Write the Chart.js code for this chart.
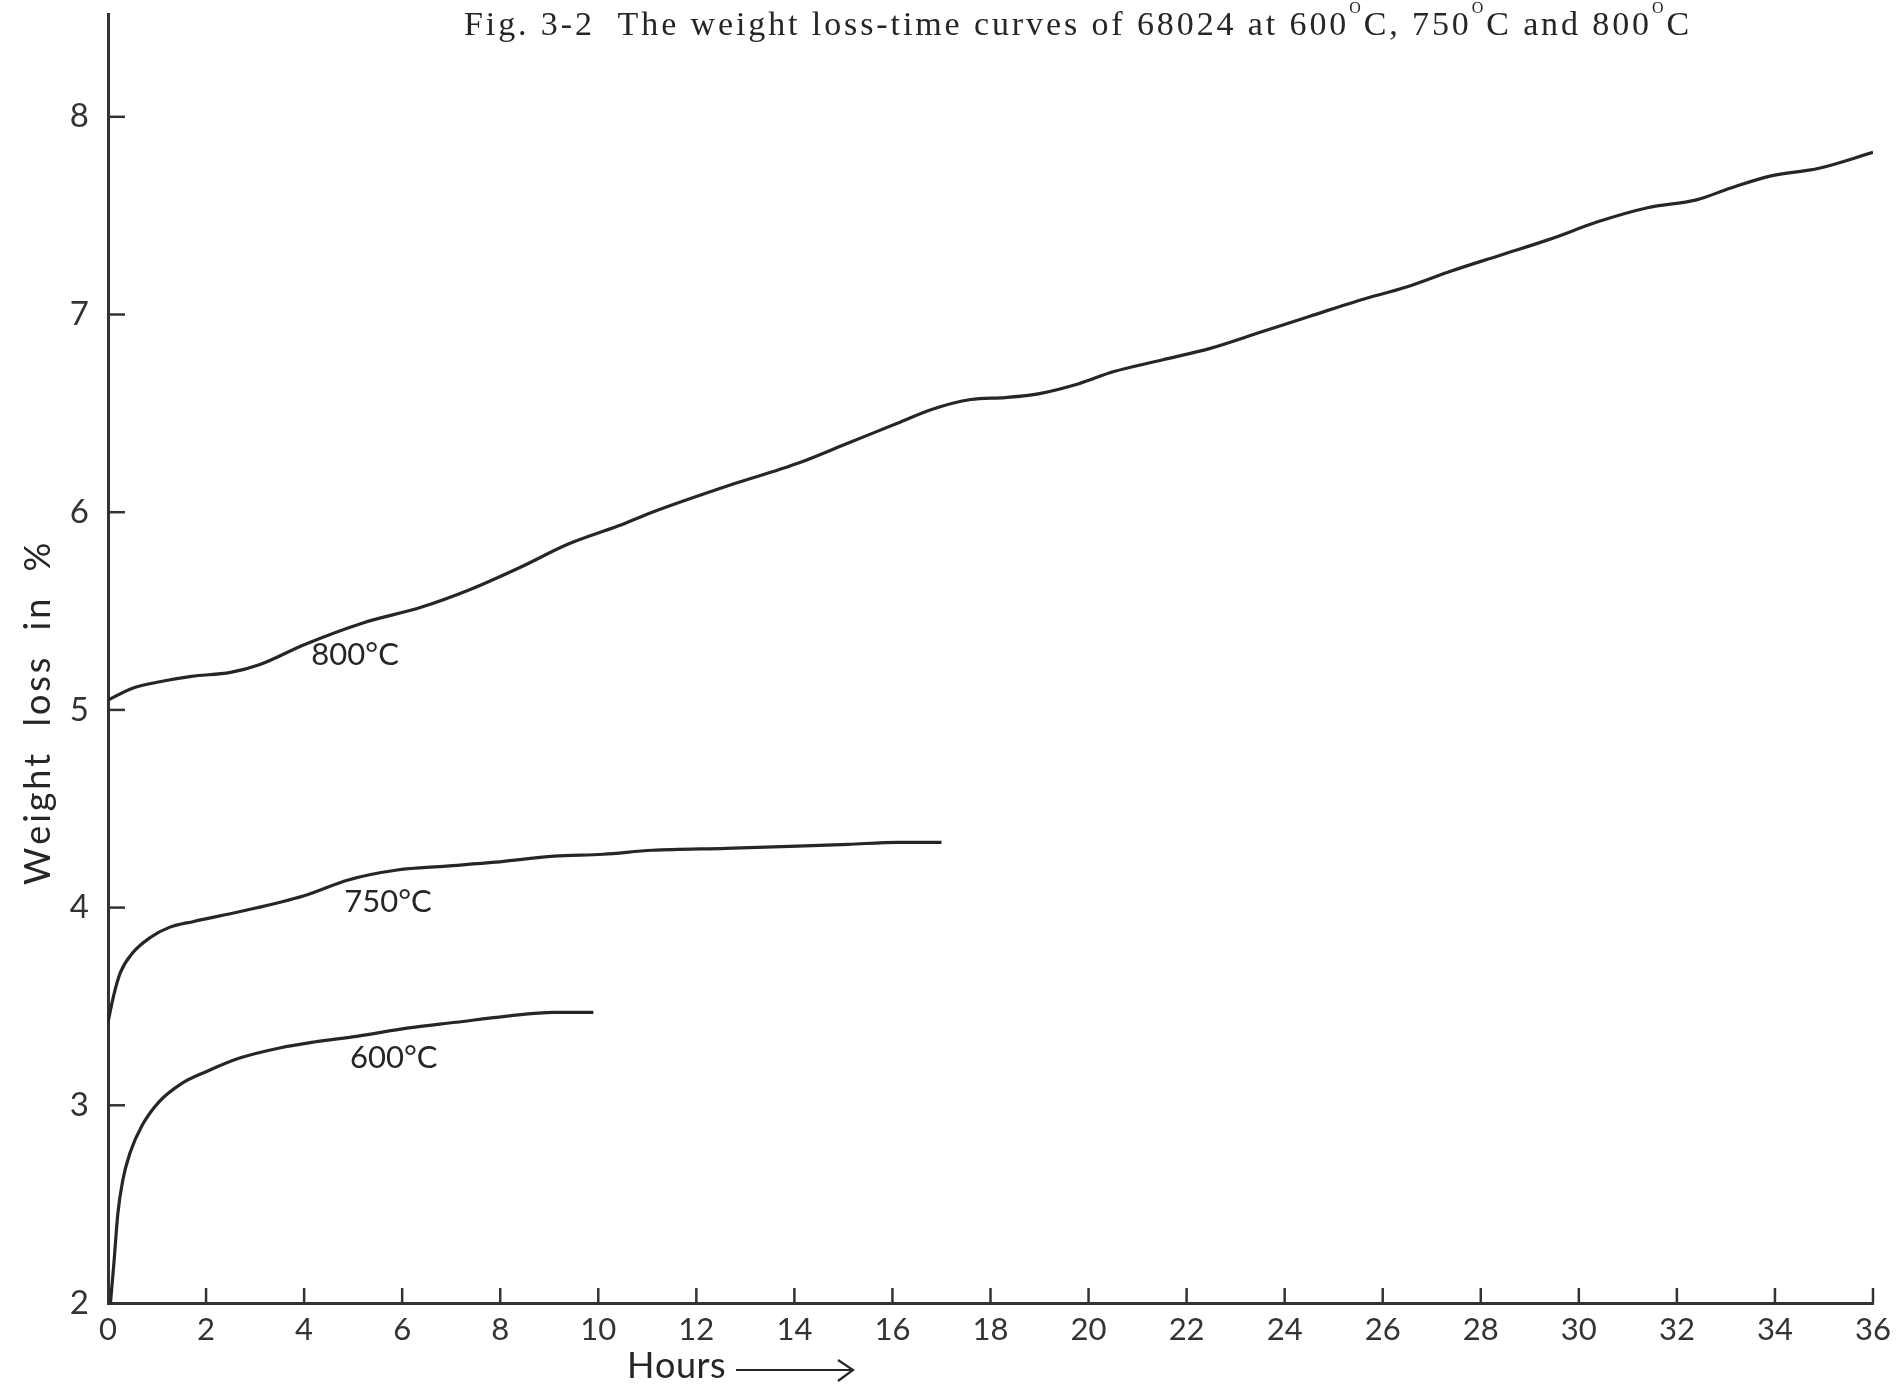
<!DOCTYPE html>
<html>
<head>
<meta charset="utf-8">
<title>Weight loss-time curves of 68024</title>
<script src="https://cdn.jsdelivr.net/npm/chart.js@4.4.1/dist/chart.umd.min.js"></script>
<style>
  html, body { margin: 0; padding: 0; background: #ffffff; }
  #wrap { width: 1899px; height: 1386px; }
</style>
</head>
<body>
<div id="wrap"><canvas id="c" width="1899" height="1386"></canvas></div>
<script>
// Weight loss (%) against time (hours) for sample 68024 at three temperatures.
const hours800 = [0, 0.5, 1, 1.7, 2.5, 3.1, 4, 5.2, 6.4, 7.4, 8.4, 9.4, 10.4, 11.1, 12.6, 14.1, 15.1, 16.1, 16.8, 17.6, 18.3, 19, 19.8, 20.5, 21.5, 22.5, 23.5, 24.5, 25.5, 26.5, 27.4, 28.4, 29.4, 30.4, 31.4, 32.4, 33.1, 33.9, 34.9, 36];
const loss800  = [5.05, 5.11, 5.14, 5.17, 5.19, 5.23, 5.33, 5.44, 5.52, 5.61, 5.72, 5.84, 5.93, 6.00, 6.13, 6.25, 6.35, 6.45, 6.52, 6.57, 6.58, 6.60, 6.65, 6.71, 6.77, 6.83, 6.91, 6.99, 7.07, 7.14, 7.22, 7.30, 7.38, 7.47, 7.54, 7.58, 7.64, 7.70, 7.74, 7.82];

const hours750 = [0, 0.12, 0.25, 0.5, 0.87, 1.25, 1.75, 2.7, 4.0, 4.9, 5.9, 6.9, 7.9, 9.1, 10.1, 11.1, 12.6, 13.9, 15.1, 16.1, 17.0];
const loss750  = [3.42, 3.56, 3.67, 3.77, 3.85, 3.90, 3.93, 3.98, 4.06, 4.14, 4.19, 4.21, 4.23, 4.26, 4.27, 4.29, 4.30, 4.31, 4.32, 4.33, 4.33];

const hours600 = [0.05, 0.12, 0.2, 0.3, 0.45, 0.7, 1.05, 1.5, 2.0, 2.7, 3.5, 4.2, 5.1, 6.1, 7.1, 8.1, 9.1, 9.9];
const loss600  = [2.00, 2.20, 2.45, 2.62, 2.76, 2.90, 3.02, 3.11, 3.17, 3.24, 3.29, 3.32, 3.35, 3.39, 3.42, 3.45, 3.47, 3.47];

// Axis ticks
const xTicks = [0, 2, 4, 6, 8, 10, 12, 14, 16, 18, 20, 22, 24, 26, 28, 30, 32, 34, 36];
const yTicks = [2, 3, 4, 5, 6, 7, 8];

// Curve annotations, placed in data units
const curveLabels = ['800°C', '750°C', '600°C'];
const curveLabelHours = [5.04, 5.71, 5.83];
const curveLabelLoss  = [5.28, 4.03, 3.24];

// Figure caption pieces: [text, superscript?]
const captionParts = [
  ['Fig. 3-2  The weight loss-time curves of 68024 at 600', false], ['O', true],
  ['C, 750', false], ['O', true], ['C and 800', false], ['O', true], ['C', false]
];
const yTitle = 'Weight  loss  in  %';
const xTitle = 'Hours';

const ink = '#262626';
const handFont = 'Lato, "Open Sans", "DejaVu Sans", sans-serif';

function toPoints(xs, ys) { return xs.map((x, i) => ({ x: x, y: ys[i] })); }

function lineSet(label, xs, ys) {
  return {
    label: label,
    data: toPoints(xs, ys),
    borderColor: ink,
    borderWidth: 3.2,
    pointRadius: 0,
    fill: false,
    cubicInterpolationMode: 'monotone'
  };
}

// Short tick marks drawn inward from both axes
const innerTicks = {
  id: 'innerTicks',
  afterDatasetsDraw(chart) {
    const { ctx, chartArea: a, scales: { x, y } } = chart;
    ctx.save();
    ctx.strokeStyle = '#333';
    ctx.lineWidth = 2.5;
    yTicks.forEach(v => {
      if (v === 2) return;
      const py = y.getPixelForValue(v);
      ctx.beginPath(); ctx.moveTo(a.left, py); ctx.lineTo(a.left + 17, py); ctx.stroke();
    });
    xTicks.forEach(v => {
      if (v === 0) return;
      const px = x.getPixelForValue(v);
      ctx.beginPath(); ctx.moveTo(px, a.bottom); ctx.lineTo(px, a.bottom - 15); ctx.stroke();
    });
    ctx.restore();
  }
};

// Writes text centred on cx, spread to a given width
function spreadText(ctx, text, cx, cy, width) {
  ctx.letterSpacing = '0px';
  const w = ctx.measureText(text).width;
  const ls = (width - w) / Math.max(1, text.length - 1);
  let px = cx - width / 2;
  for (const ch of text) {
    ctx.fillText(ch, px, cy);
    px += ctx.measureText(ch).width + ls;
  }
}

const annotations = {
  id: 'annotations',
  afterDraw(chart) {
    const { ctx, scales: { x, y } } = chart;
    ctx.save();
    ctx.fillStyle = ink;

    // caption across the top
    const mainFont = '34px "Liberation Serif", "DejaVu Serif", serif';
    const supFont = '16px "Liberation Serif", "DejaVu Serif", serif';
    let total = 0, chars = 0;
    captionParts.forEach(([t, sup]) => {
      ctx.font = sup ? supFont : mainFont;
      total += ctx.measureText(t).width;
      chars += t.length;
    });
    const capWidth = 1228;
    const ls = (capWidth - total) / chars;
    let cx = 464;
    const base = 35;
    ctx.textBaseline = 'alphabetic';
    ctx.textAlign = 'left';
    captionParts.forEach(([t, sup]) => {
      ctx.font = sup ? supFont : mainFont;
      for (const ch of t) {
        ctx.fillText(ch, cx, sup ? base - 22 : base);
        cx += ctx.measureText(ch).width + ls;
      }
    });

    // curve labels
    ctx.font = '31px ' + handFont;
    ctx.textAlign = 'center';
    ctx.textBaseline = 'middle';
    curveLabels.forEach((t, i) => {
      ctx.fillText(t, x.getPixelForValue(curveLabelHours[i]), y.getPixelForValue(curveLabelLoss[i]));
    });

    // y axis title
    ctx.save();
    ctx.translate(38, 715);
    ctx.rotate(-Math.PI / 2);
    ctx.font = '36px ' + handFont;
    ctx.textAlign = 'left';
    spreadText(ctx, yTitle, 0, 0, 340);
    ctx.restore();

    // x axis title with arrow
    ctx.font = '36px ' + handFont;
    ctx.textAlign = 'left';
    spreadText(ctx, xTitle, 676, 1366, 98);
    ctx.strokeStyle = ink;
    ctx.lineWidth = 2.2;
    ctx.beginPath();
    ctx.moveTo(736, 1370); ctx.lineTo(852, 1370);
    ctx.moveTo(838, 1360); ctx.lineTo(853, 1370); ctx.lineTo(838, 1381);
    ctx.stroke();

    ctx.restore();
  }
};

new Chart(document.getElementById('c'), {
  type: 'line',
  data: {
    datasets: [
      lineSet('800°C', hours800, loss800),
      lineSet('750°C', hours750, loss750),
      lineSet('600°C', hours600, loss600)
    ]
  },
  options: {
    responsive: false,
    animation: false,
    devicePixelRatio: 1,
    layout: { padding: { top: 14, right: 26, left: 0, bottom: 0 } },
    plugins: {
      legend: { display: false },
      title: { display: false },
      tooltip: { enabled: false }
    },
    scales: {
      x: {
        type: 'linear',
        min: 0,
        max: 36,
        afterBuildTicks: s => { s.ticks = xTicks.map(v => ({ value: v })); },
        afterFit: s => { s.height = 83; s.paddingLeft = 0; s.paddingRight = 0; },
        grid: { display: true, drawOnChartArea: false, drawTicks: false },
        border: { display: true, color: '#333', width: 3 },
        ticks: {
          padding: 8,
          color: '#333',
          maxRotation: 0,
          autoSkip: false,
          font: { family: handFont, size: 31 }
        }
      },
      y: {
        type: 'linear',
        min: 2,
        max: 8.52,
        afterBuildTicks: s => { s.ticks = yTicks.map(v => ({ value: v })); },
        afterFit: s => { s.width = 108; s.paddingTop = 0; s.paddingBottom = 0; },
        grid: { display: true, drawOnChartArea: false, drawTicks: false },
        border: { display: true, color: '#333', width: 3 },
        ticks: {
          padding: 19,
          color: '#333',
          font: { family: handFont, size: 33 }
        }
      }
    }
  },
  plugins: [innerTicks, annotations]
});
</script>
</body>
</html>
